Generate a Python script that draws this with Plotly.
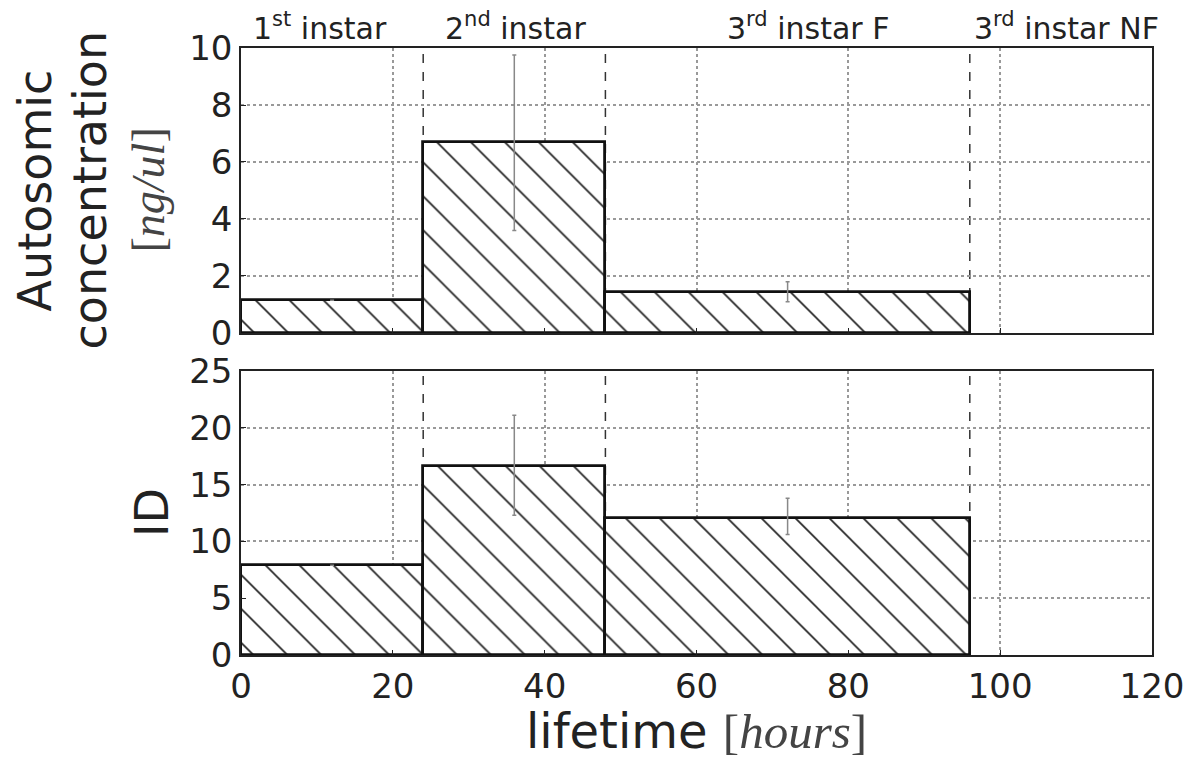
import plotly.graph_objects as go
from plotly.subplots import make_subplots

# ---- data ----
bin_edges = [0, 24, 48, 96]
conc_values = [1.15, 6.7, 1.45]
conc_err_lo = [None, 3.6, 1.1]
conc_err_hi = [None, 9.75, 1.8]
id_values = [7.9, 16.6, 12.1]
id_err_lo = [None, 12.3, 10.6]
id_err_hi = [None, 21.1, 13.8]
stage_bounds = [24, 48, 96]
stage_labels = ["1<sup>st</sup> instar", "2<sup>nd</sup> instar",
                "3<sup>rd</sup> instar F", "3<sup>rd</sup> instar NF"]
stage_label_x = [10.4, 36.2, 74.7, 108.8]
x_ticks = [0, 20, 40, 60, 80, 100, 120]
conc_ticks = [0, 2, 4, 6, 8, 10]
id_ticks = [0, 5, 10, 15, 20, 25]

centers = [(a + b) / 2 for a, b in zip(bin_edges[:-1], bin_edges[1:])]
widths = [b - a for a, b in zip(bin_edges[:-1], bin_edges[1:])]


def err_arrays(vals, lo, hi):
    plus = [(h - v) if h is not None else 0 for v, h in zip(vals, hi)]
    minus = [(v - l) if l is not None else 0 for v, l in zip(vals, lo)]
    return plus, minus


fig = make_subplots(rows=2, cols=1, shared_xaxes=False, vertical_spacing=0.0)

SANS = "DejaVu Sans"
SERIF = "Liberation Serif"

for row, vals, lo, hi in [(1, conc_values, conc_err_lo, conc_err_hi),
                          (2, id_values, id_err_lo, id_err_hi)]:
    plus, minus = err_arrays(vals, lo, hi)
    fig.add_trace(go.Bar(
        x=centers, y=vals, width=widths,
        marker=dict(color="white",
                    line=dict(color="#111", width=2.8),
                    pattern=dict(shape="\\", fgcolor="#222", bgcolor="white",
                                 size=24, solidity=0.07, fillmode="replace")),
        error_y=dict(type="data", symmetric=False, array=plus, arrayminus=minus,
                     color="#888", thickness=1.5, width=2),
        showlegend=False,
    ), row=row, col=1)

axis_common = dict(showline=True, linecolor="#222", linewidth=1.5, mirror=True,
                   showgrid=True, gridcolor="#999", griddash="dot", gridwidth=1.5,
                   ticks="inside", ticklen=5, tickcolor="#222", zeroline=False,
                   tickfont=dict(family=SANS, size=34, color="#222"))

# page body has an 8px default margin; compensate
W, H = 1185, 755
L, T = 233, 40
R = W - (1152 - 8)
B = H - (655 - 8)
plot_w = W - L - R
plot_h = H - T - B

fig.update_layout(
    width=W, height=H,
    margin=dict(l=L, r=R, t=T, b=B, autoexpand=False),
    plot_bgcolor="white", paper_bgcolor="white",
    bargap=0,
    xaxis=dict(domain=[0, 1], range=[0, 120], tickvals=x_ticks,
               showticklabels=False, anchor="y", **axis_common),
    yaxis=dict(domain=[0.5305, 1.0], range=[0, 10], tickvals=conc_ticks,
               anchor="x", **axis_common),
    xaxis2=dict(domain=[0, 1], range=[0, 120], tickvals=x_ticks,
                anchor="y2", **axis_common),
    yaxis2=dict(domain=[0.0, 0.4679], range=[0, 25], tickvals=id_ticks,
                anchor="x2", **axis_common),
)

# stage boundary dashed lines
for xr, yr in [("x", "y domain"), ("x2", "y2 domain")]:
    for b in stage_bounds:
        fig.add_shape(type="line", xref=xr, yref=yr, x0=b, x1=b, y0=0, y1=1,
                      line=dict(color="#333", width=1.5, dash="dash"), layer="below")

# stage labels
for lab, lx in zip(stage_labels, stage_label_x):
    fig.add_annotation(x=lx, xref="x", y=1, yref="paper", yanchor="bottom",
                       xanchor="center", yshift=0, text=lab, showarrow=False,
                       font=dict(family=SANS, size=30, color="#222"))


def px_x(px):
    return (px - 241) / plot_w


# y titles
fig.add_annotation(x=px_x(35), xref="paper", y=0.5, yref="y domain",
                   xanchor="center", yanchor="middle",
                   text="Autosomic", textangle=-90, showarrow=False,
                   font=dict(family=SANS, size=46, color="#222"))
fig.add_annotation(x=px_x(90), xref="paper", y=0.5, yref="y domain",
                   xanchor="center", yanchor="middle",
                   text="concentration", textangle=-90, showarrow=False,
                   font=dict(family=SANS, size=46, color="#222"))
fig.add_annotation(x=px_x(148), xref="paper", y=0.5, yref="y domain",
                   xanchor="center", yanchor="middle",
                   text="[<i>ng/ul</i>]", textangle=-90, showarrow=False,
                   font=dict(family=SERIF, size=46, color="#444"))
fig.add_annotation(x=px_x(152), xref="paper", y=0.5, yref="y2 domain",
                   xanchor="center", yanchor="middle",
                   text="ID", textangle=-90, showarrow=False,
                   font=dict(family=SANS, size=46, color="#222"))

# x title
fig.add_annotation(x=0.5, xref="paper", y=(655 - 731) / plot_h, yref="paper",
                   yanchor="middle", xanchor="center",
                   text="lifetime <span style='font-family:Liberation Serif;font-size:49px;color:#444'>[<i>hours</i>]</span>",
                   showarrow=False, font=dict(family=SANS, size=48, color="#222"))

fig.write_html("out.html")
